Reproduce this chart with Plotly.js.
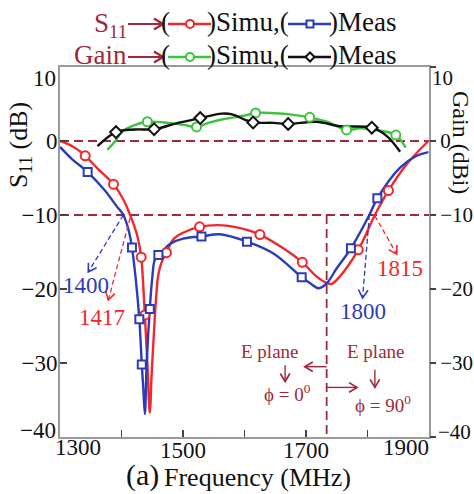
<!DOCTYPE html>
<html><head><meta charset="utf-8">
<script src="https://cdn.plot.ly/plotly-3.0.1.min.js"></script>
<style>html,body{margin:0;padding:0;background:#fff}#chart{width:474px;height:494px}</style>
</head><body><div id="chart"></div>
<script>
// ---- data ----
const s11SimFreq = [1300,1322,1341,1362,1387,1403,1414,1425,1432,1435,1438,1442,1446,1449,1452,1456,1460,1466,1473,1484,1500,1527,1565,1604,1625,1663,1694,1717,1734,1742,1755,1785,1812,1834,1864,1899];
const s11SimDb   = [0,-0.8,-2.0,-3.8,-5.85,-7.9,-10,-12.6,-15.7,-19,-23.5,-30,-36.7,-31.5,-27,-21.5,-18,-16.2,-15.1,-13.3,-12.4,-11.6,-11.4,-12.0,-12.65,-14.5,-16.4,-18.3,-19.2,-19.3,-18.3,-14.7,-10,-6.7,-3.1,0];
const s11SimMkFreq = [1341,1387,1432,1438,1473,1527,1625,1694,1785,1834];
const s11SimMkDb   = [-2.0,-5.85,-15.7,-23.5,-15.1,-11.6,-12.65,-16.4,-14.7,-6.7];

const s11MeasFreq = [1300,1319,1345,1373,1392,1403,1412,1417,1423,1429,1433,1435.5,1438,1441,1446,1450,1454,1460,1470,1479,1500,1530,1560,1604,1647,1693,1708,1720,1733,1750,1773,1803,1816,1853,1880,1899];
const s11MeasDb   = [-0.8,-2.4,-4.2,-6.7,-8.8,-10,-12.2,-14.4,-18.5,-24.1,-30.2,-33.5,-36.9,-30,-22.7,-18.5,-16.1,-15.4,-14.6,-13.9,-13.2,-12.9,-12.6,-13.6,-15.2,-18.4,-19.3,-19.9,-19.3,-17.2,-14.5,-10,-7.75,-3.6,-2.0,-1.5];
const s11MeasMkFreq = [1345,1417,1429,1433,1446,1460,1530,1604,1693,1773,1816];
const s11MeasMkDb   = [-4.2,-14.4,-24.1,-30.2,-22.7,-15.4,-12.9,-13.6,-18.4,-14.5,-7.75];

const gainSimFreq = [1377,1390,1400,1420,1442,1476,1500,1522,1541,1563,1601,1618,1650,1674,1706,1734,1766,1788,1820,1846,1862];
const gainSimDbi  = [-1.2,0.0,1.2,2.1,2.6,2.45,2.2,1.9,2.45,2.9,3.45,3.8,3.75,3.6,3.2,2.6,1.5,1.7,1.4,0.8,-0.9];
const gainSimMkFreq = [1442,1522,1618,1706,1766,1846];
const gainSimMkDbi  = [2.6,1.9,3.8,3.2,1.5,0.8];

const gainMeasFreq = [1361,1391,1422,1453,1492,1528,1563,1580,1600,1614,1647,1671,1717,1755,1807,1831,1853];
const gainMeasDbi  = [-0.7,1.2,1.55,1.6,2.45,3.1,3.7,3.6,2.9,2.5,2.45,2.3,2.6,2.0,1.8,0.7,-1.45];
const gainMeasMkFreq = [1391,1453,1528,1614,1671,1807];
const gainMeasMkDbi  = [1.2,1.6,3.1,2.5,2.3,1.8];

const xTickVals = [1300,1500,1700,1900];
const xMinorVals = [1400,1600,1800];
const yTickVals = [-40,-30,-20,-10,0,10];
const xRange = [1300,1900];
const yRange = [-40,10];
const refLevels = [0,-10];
const splitFreq = 1733.6;

// ---- styles ----
const FONT = 'Liberation Serif, Times New Roman, serif';
const MAROON = '#a0283c';
const RED = '#f0282d', BLUE = '#2c3cb8', GREEN = '#3cc43c', BLACK = '#111111';
const W = 474, H = 494, M = {l:60, r:45, t:67, b:57};
const PW = W - M.l - M.r, PH = H - M.t - M.b;
const px = x => (x - M.l) / PW, py = y => (H - M.b - y) / PH;          // pixel -> paper
const fx = f => M.l + (f - xRange[0]) / (xRange[1] - xRange[0]) * PW;    // data -> pixel
const vy = v => M.t + (yRange[1] - v) / (yRange[1] - yRange[0]) * PH;
const numText = v => String(v).replace('-', '\u2212');

function curve(x, y, color, yaxis){
  return {x, y, yaxis, type:'scatter', mode:'lines', line:{color, width:2.4, shape:'spline', smoothing:1}, showlegend:false, hoverinfo:'skip'};
}
function marks(x, y, color, symbol, size, yaxis){
  return {x, y, yaxis, type:'scatter', mode:'markers', marker:{symbol, size, color:'#fff', line:{color, width:2}}, showlegend:false, hoverinfo:'skip'};
}

const data = [
  curve(s11SimFreq, s11SimDb, RED, 'y'),
  curve(s11MeasFreq, s11MeasDb, BLUE, 'y'),
  curve(gainSimFreq, gainSimDbi, GREEN, 'y2'),
  curve(gainMeasFreq, gainMeasDbi, BLACK, 'y2'),
  marks(s11SimMkFreq, s11SimMkDb, RED, 'circle', 9, 'y'),
  marks(s11MeasMkFreq, s11MeasMkDb, BLUE, 'square', 8, 'y'),
  marks(gainSimMkFreq, gainSimMkDbi, GREEN, 'circle', 9, 'y2'),
  marks(gainMeasMkFreq, gainMeasMkDbi, BLACK, 'diamond', 9, 'y2'),
];

const shapes = [];
const annotations = [];
refLevels.forEach(v => shapes.push({type:'line', xref:'paper', yref:'y', x0:0, x1:1, y0:v, y1:v, line:{color:MAROON, width:1.8, dash:'9px,5px'}, layer:'below'}));
shapes.push({type:'line', xref:'x', yref:'y', x0:splitFreq, x1:splitFreq, y0:-10, y1:-40, line:{color:MAROON, width:1.8, dash:'9px,5px'}, layer:'below'});

// arrow = line (maybe dashed) + open chevron head, all in pixel positions
function arrow(p0, p1, color, width, dash, head){
  const dx = p1[0]-p0[0], dy = p1[1]-p0[1], L = Math.hypot(dx, dy), ux = dx/L, uy = dy/L;
  shapes.push({type:'line', xref:'paper', yref:'paper', x0:px(p0[0]), y0:py(p0[1]), x1:px(p1[0]), y1:py(p1[1]), line:{color, width, dash:dash||'solid'}});
  const hw = head*0.6;
  const a = [p1[0]-ux*head - uy*hw, p1[1]-uy*head + ux*hw];
  const b = [p1[0]-ux*head + uy*hw, p1[1]-uy*head - ux*hw];
  shapes.push({type:'path', xref:'paper', yref:'paper', path:`M${px(a[0])},${py(a[1])} L${px(p1[0])},${py(p1[1])} L${px(b[0])},${py(b[1])}`, line:{color, width:width+0.3}});
}
const dataArrow = (from, to, color, width, dash, head) => arrow([fx(from[0]), vy(from[1])], [fx(to[0]), vy(to[1])], color, width, dash, head);

// dashed pointers for band edges
const pointers = [
  {from:[1403,-10], to:[1346,-17.7], color:BLUE},
  {from:[1414,-10.4], to:[1378.5,-21.5], color:RED},
  {from:[1812,-10.1], to:[1847.5,-15.3], color:RED},
  {from:[1803,-10], to:[1792,-21.2], color:BLUE},
];
pointers.forEach(p => dataArrow(p.from, p.to, p.color, 1.3, '5px,3px', 8));

// band-edge labels
const edgeLabels = [
  {t:'1400', x:1341.5, y:-19.5, c:BLUE},
  {t:'1417', x:1369, y:-23.9, c:RED},
  {t:'1815', x:1852.8, y:-17.2, c:RED},
  {t:'1800', x:1793, y:-23.0, c:BLUE},
];
edgeLabels.forEach(e => annotations.push({x:e.x, y:e.y, xref:'x', yref:'y', xanchor:'center', yanchor:'middle', text:e.t, showarrow:false, font:{family:FONT, size:23, color:e.c}}));

// E-plane notes
const ef = {family:FONT, size:19, color:MAROON};
const eNotes = [
  {t:'E plane', x:1641.5, y:-28.4},
  {t:'E plane', x:1813.5, y:-28.5},
  {t:'\u03d5 = 0<sup>0</sup>', x:1670.7, y:-34.1},
  {t:'\u03d5 = 90<sup>0</sup>', x:1825.7, y:-35.5},
];
eNotes.forEach(n => annotations.push({x:n.x, y:n.y, xref:'x', yref:'y', xanchor:'center', yanchor:'middle', text:n.t, showarrow:false, font:ef}));
const arrowsE = [
  {tail:[1666,-30.3], head:[1666,-32.5]},
  {tail:[1812,-30.9], head:[1812,-33.3]},
  {tail:[splitFreq,-30.5], head:[1698,-30.5]},
  {tail:[splitFreq,-33.3], head:[1783,-33.3]},
];
arrowsE.forEach(a => dataArrow(a.tail, a.head, MAROON, 1.4, 'solid', 8));

function paperText(x, y, text, font, xanchor, extra){
  return Object.assign({xref:'paper', yref:'paper', x:px(x), y:py(y), text, showarrow:false, font, xanchor:xanchor||'center', yanchor:'middle'}, extra||{});
}

// edge tick labels, nudged inward as in the reference
const tickFont = {family:FONT, size:23, color:BLACK};
const rightTickFont = {family:FONT, size:21, color:BLACK};
const xLast = xTickVals.length - 1, yLast = yTickVals.length - 1;
const xTickText = xTickVals.map((v, i) => (i === 0 || i === xLast) ? '' : numText(v));
const yTickText = yTickVals.map((v, i) => (i === 0 || i === yLast) ? '' : numText(v));
annotations.push(paperText(78, 448, numText(xTickVals[0]), tickFont));
annotations.push(paperText(406, 448, numText(xTickVals[xLast]), tickFont));
annotations.push(paperText(58, 430, numText(yTickVals[0]), tickFont, 'right'));
annotations.push(paperText(58, 78, numText(yTickVals[yLast]), tickFont, 'right'));
annotations.push(paperText(436, 432, numText(yTickVals[0]), rightTickFont, 'left'));
annotations.push(paperText(430, 78, numText(yTickVals[yLast]), rightTickFont, 'left'));

// axis titles
annotations.push(paperText(20, 145, 'S<sub>11</sub> (dB)', {family:FONT, size:26, color:BLACK}, 'center', {textangle:-90}));
annotations.push(paperText(461, 142, 'Gain (dBi)', {family:FONT, size:24, color:BLACK}, 'center', {textangle:90}));
annotations.push(paperText(142, 475, '(a)', {family:FONT, size:30, color:BLACK}));
annotations.push(paperText(162, 477, 'Frequency (MHz)', {family:FONT, size:26, color:BLACK}, 'left'));

// custom legend
const lf = {family:FONT, size:27, color:BLACK};
const rows = [
  {y:22, label:'S<sub>11</sub>', c1:RED, c2:BLUE, m2:'square'},
  {y:55, label:'Gain', c1:GREEN, c2:BLACK, m2:'diamond'},
];
rows.forEach(r => {
  annotations.push(paperText(129, r.label === 'Gain' ? r.y : r.y + 3, r.label, {family:FONT, size:27, color:MAROON}, 'right'));
  arrow([128, r.y+2], [163, r.y+2], MAROON, 2, 'solid', 9);
  annotations.push(paperText(159, r.y, '(', lf, 'left'));
  annotations.push(paperText(205, r.y, ')Simu,(', lf, 'left'));
  annotations.push(paperText(327, r.y, ')Meas', lf, 'left'));
  const yl = r.y + 2;
  shapes.push({type:'line', xref:'paper', yref:'paper', x0:px(168), x1:px(211), y0:py(yl), y1:py(yl), line:{color:r.c1, width:2.4}});
  shapes.push({type:'circle', xref:'paper', yref:'paper', x0:px(186), x1:px(194), y0:py(yl+4), y1:py(yl-4), fillcolor:'#fff', line:{color:r.c1, width:2}});
  shapes.push({type:'line', xref:'paper', yref:'paper', x0:px(288), x1:px(331), y0:py(yl), y1:py(yl), line:{color:r.c2, width:2.4}});
  if (r.m2 === 'square') {
    shapes.push({type:'rect', xref:'paper', yref:'paper', x0:px(306.5), x1:px(313.5), y0:py(yl+3.5), y1:py(yl-3.5), fillcolor:'#fff', line:{color:r.c2, width:2}});
  } else {
    const cx = 310, d = 4.5;
    shapes.push({type:'path', xref:'paper', yref:'paper', path:`M${px(cx-d)},${py(yl)} L${px(cx)},${py(yl-d)} L${px(cx+d)},${py(yl)} L${px(cx)},${py(yl+d)} Z`, fillcolor:'#fff', line:{color:r.c2, width:2}});
  }
});

const layout = {
  width:W, height:H, margin:M, paper_bgcolor:'#fff', plot_bgcolor:'#fff', showlegend:false,
  xaxis:{range:xRange, tickvals:xTickVals, ticktext:xTickText, ticks:'inside', ticklen:7, tickwidth:1.5, tickcolor:'#444', ticklabelstandoff:-9,
    minor:{tickvals:xMinorVals, ticks:'inside', ticklen:7, tickwidth:1.5, tickcolor:'#444', showgrid:false},
    showline:true, linecolor:'#9a9a9a', linewidth:2, mirror:true, showgrid:false, zeroline:false, tickfont:tickFont, fixedrange:true},
  yaxis:{range:yRange, tickvals:yTickVals, ticktext:yTickText, ticks:'inside', ticklen:7, tickwidth:1.5, tickcolor:'#444', ticklabelstandoff:-4,
    showline:true, linecolor:'#9a9a9a', linewidth:2, mirror:true, showgrid:false, zeroline:false, tickfont:tickFont, fixedrange:true},
  yaxis2:{range:yRange, tickvals:yTickVals, ticktext:yTickText, overlaying:'y', side:'right', ticks:'outside', ticklen:6, tickwidth:1.5, tickcolor:'#444',
    showline:false, showgrid:false, zeroline:false, tickfont:rightTickFont, fixedrange:true},
  shapes, annotations,
};
Plotly.newPlot('chart', data, layout, {staticPlot:true, displayModeBar:false});
</script>
</body></html>
